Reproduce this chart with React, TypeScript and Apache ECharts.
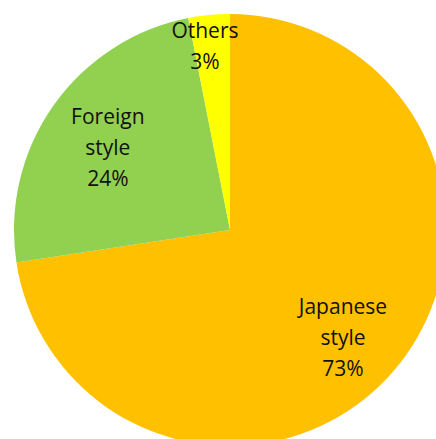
import React, { useEffect, useRef } from "react";
import * as echarts from "echarts";

const categories = ["Japanese\nstyle", "Foreign\nstyle", "Others"];
const values = [72.6, 24.3, 3.1];
const colors = ["#FFC000", "#92D050", "#FFFF00"];
const labelRadiusFactors = [0.72, 0.68, 0.86];
const labelNudges = [
  [-5, 6],
  [-2, 1],
  [-7, 0],
];

const CX = 230;
const CY = 230;
const R = 216;

export default function App() {
  const ref = useRef<HTMLDivElement>(null);
  useEffect(() => {
    if (!ref.current) return;
    const chart = echarts.init(ref.current, undefined, { renderer: "svg" });
    const total = values.reduce((a, b) => a + b, 0);
    const mids: number[] = [];
    let acc = 0;
    values.forEach((v) => {
      mids.push(((acc + v / 2) / total) * Math.PI * 2);
      acc += v;
    });
    chart.setOption({
      animation: false,
      backgroundColor: "#ffffff",
      series: [
        {
          type: "pie",
          center: [CX, CY],
          radius: [0, R],
          startAngle: 90,
          clockwise: true,
          silent: true,
          data: categories.map((c, i) => ({
            name: c,
            value: values[i],
            itemStyle: { color: colors[i] },
          })),
          label: {
            show: true,
            position: "inside",
            formatter: (p: any) => `${p.name}\n${Math.round(p.percent)}%`,
            color: "#111111",
            fontFamily: "Open Sans",
            fontSize: 21,
            lineHeight: 31,
            align: "center",
            verticalAlign: "middle",
          },
          labelLine: { show: false },
          labelLayout: (params: any) => {
            const i = params.dataIndex;
            const a = mids[i];
            const k = labelRadiusFactors[i] * R;
            return {
              x: CX + Math.sin(a) * k + labelNudges[i][0],
              y: CY - Math.cos(a) * k + labelNudges[i][1],
              align: "center",
              verticalAlign: "middle",
            };
          },
        },
      ],
    });
    return () => chart.dispose();
  }, []);
  return (
    <div
      ref={ref}
      style={{ position: "fixed", left: 0, top: 0, width: 436, height: 439 }}
    />
  );
}
